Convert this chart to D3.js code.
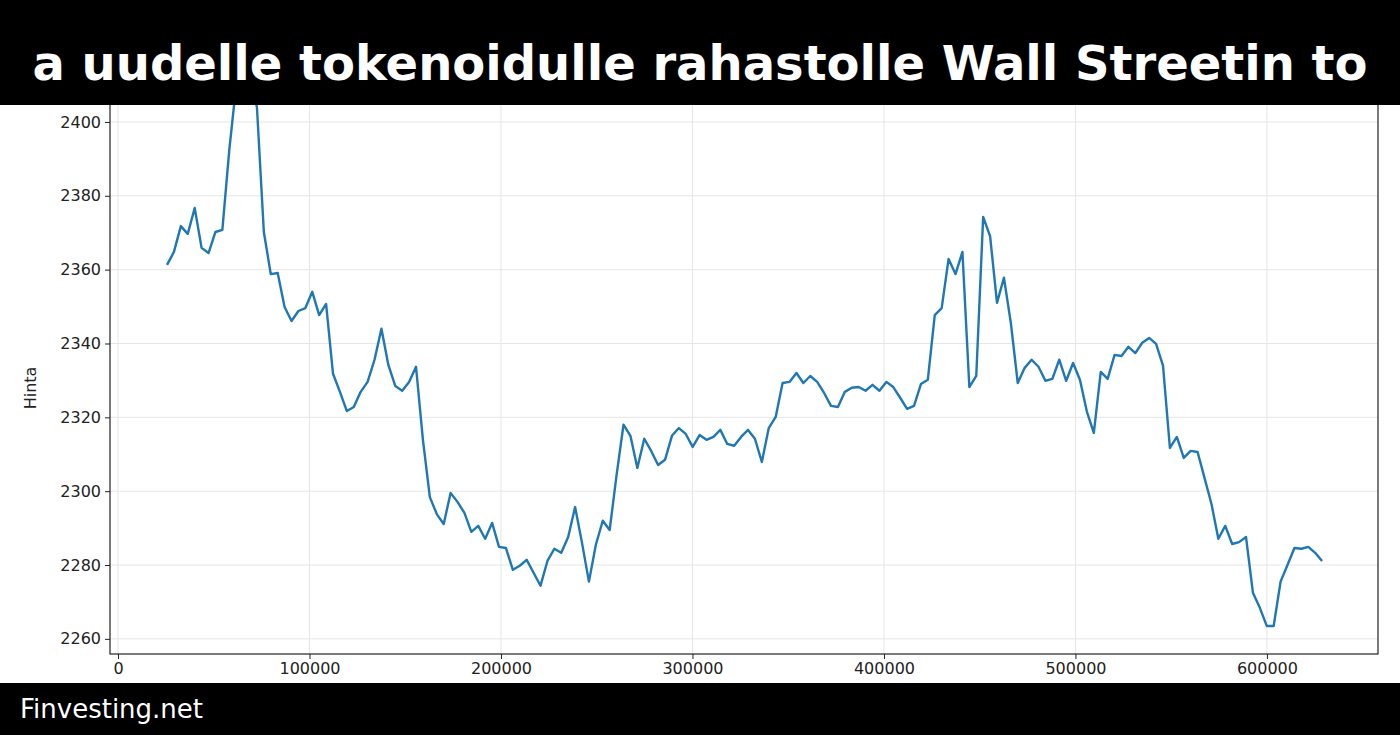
<!DOCTYPE html>
<html><head><meta charset="utf-8">
<script src="https://cdn.jsdelivr.net/npm/d3@7"></script>
<style>body{margin:0;background:#fff}svg{display:block;font-family:"DejaVu Sans",sans-serif}</style>
</head><body><svg id="c" width="1400" height="735"></svg>
<script>
const titleText = "a uudelle tokenoidulle rahastolle Wall Streetin to";
const footerText = "Finvesting.net";
const yLabel = "Hinta";
const xTicks = [0,100000,200000,300000,400000,500000,600000];
const yTicks = [2260,2280,2300,2320,2340,2360,2380,2400];
const xStart = 25600, xEnd = 628800;
const prices = [2361.3,2364.8,2371.8,2369.7,2376.7,2365.9,2364.5,2370.2,2370.8,2392.4,
2410,2418,2412,2404,
2370.2,2358.8,2359.1,2349.9,2346.1,2348.8,2349.6,2354.0,2347.7,2350.7,
2331.8,2326.9,2321.7,2322.8,2326.9,2329.6,2335.6,2344.0,2334.2,2328.5,
2327.2,2329.6,2333.7,2313.9,2298.4,2293.8,2291.1,2299.5,2297.1,2294.1,
2289.0,2290.6,2287.1,2291.4,2284.9,2284.6,2278.7,2279.8,2281.4,2277.9,
2274.4,2281.1,2284.4,2283.3,2287.6,2295.7,2286.0,2275.5,
2285.5,2292.0,2289.5,2304.4,
2318.0,2315.0,2306.3,2314.2,2310.9,2307.1,2308.5,2315.0,2317.1,2315.5,
2312.0,2315.2,2313.9,2314.7,2316.6,2312.8,2312.3,2314.7,2316.6,2314.2,
2307.9,2317.1,2320.1,2329.3,2329.6,2332.0,2329.3,2331.2,2329.6,2326.6,
2323.1,2322.8,2326.9,2328.0,2328.2,2327.2,2328.8,2327.2,2329.6,2328.2,
2325.3,2322.3,2323.1,2329.0,2330.2,2347.7,2349.6,2362.9,2358.8,2364.8,
2328.2,2331.2,2374.3,2369.1,
2351.0,2357.8,2345.6,2329.3,2333.4,2335.6,2333.7,2329.9,2330.4,2335.6,
2329.9,2334.7,2330.1,2321.5,2315.8,2332.3,2330.4,2336.9,2336.6,2339.1,
2337.4,2340.2,2341.5,2339.9,2334.0,2311.7,2314.7,2309.0,2310.9,2310.6,
2303.6,2296.6,2287.1,2290.6,2285.7,2286.2,2287.6,2272.5,2268.4,2263.5,
2263.5,2275.5,2280.0,2284.6,2284.4,2284.9,2283.3,2281.1];

const svg = d3.select("#c");
const L=110,R=1378,T=40,B=654;
const x = d3.scaleLinear().domain([-4178,658000]).range([L,R]);
const y = d3.scaleLinear().domain([2255.9,2422.2]).range([B,T]);
const step = (xEnd-xStart)/(prices.length-1);
const data = prices.map((v,i)=>({x:xStart+i*step,y:v}));

const g = svg.append("g");
g.selectAll(".gx").data(xTicks).join("line").attr("x1",d=>x(d)).attr("x2",d=>x(d)).attr("y1",T).attr("y2",B).attr("stroke","#e6e6e6").attr("stroke-width",1);
g.selectAll(".gy").data(yTicks).join("line").attr("x1",L).attr("x2",R).attr("y1",d=>y(d)).attr("y2",d=>y(d)).attr("stroke","#e6e6e6").attr("stroke-width",1);

g.append("path").datum(data).attr("fill","none").attr("stroke","#1f77b4").attr("stroke-width",2.4).attr("stroke-linejoin","round")
 .attr("d",d3.line().x(d=>x(d.x)).y(d=>y(d.y)));

const xa = svg.append("g").attr("transform",`translate(0,${B})`).call(d3.axisBottom(x).tickValues(xTicks).tickFormat(d3.format("d")).tickSize(5).tickPadding(4));
const ya = svg.append("g").attr("transform",`translate(${L},0)`).call(d3.axisLeft(y).tickValues(yTicks).tickFormat(d3.format("d")).tickSize(5).tickPadding(4));
[xa,ya].forEach(a=>{a.selectAll("text").attr("font-size",16).attr("fill","#222").attr("font-family","DejaVu Sans");a.select(".domain").remove();a.selectAll("line").attr("stroke","#222");});
svg.append("rect").attr("x",L).attr("y",T).attr("width",R-L).attr("height",B-T).attr("fill","none").attr("stroke","#222").attr("stroke-width",1.2);
svg.append("text").attr("transform",`translate(36,${(B+122)/2}) rotate(-90)`).attr("text-anchor","middle").attr("font-size",16).attr("fill","#222").text(yLabel);

svg.append("rect").attr("x",0).attr("y",0).attr("width",1400).attr("height",105).attr("fill","#000");
svg.append("text").attr("x",700).attr("y",80).attr("text-anchor","middle").attr("font-size",48).attr("font-weight","bold").attr("fill","#fff").text(titleText);
svg.append("rect").attr("x",0).attr("y",683).attr("width",1400).attr("height",52).attr("fill","#000");
svg.append("text").attr("x",20).attr("y",718).attr("font-size",26).attr("fill","#fff").text(footerText);
</script></body></html>
